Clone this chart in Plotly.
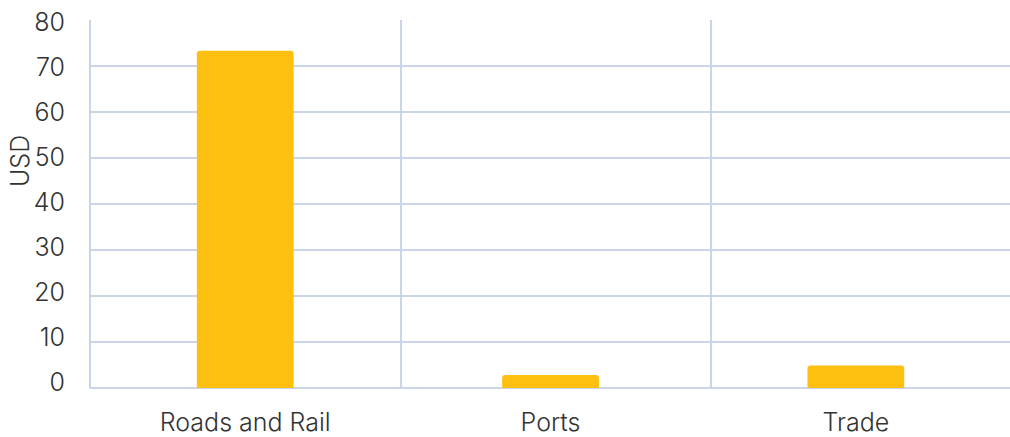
import plotly.graph_objects as go

categories = ["Roads and Rail", "Ports", "Trade"]
values = [73.3, 2.8, 4.9]
y_ticks = [0, 10, 20, 30, 40, 50, 60, 70, 80]

BAR_COLOR = "#FDC010"
GRID_COLOR = "#C9D5E8"
TEXT_COLOR = "#333333"
FONT = "Inter, sans-serif"
FONT_SIZE = 25

positions = list(range(len(categories)))

fig = go.Figure()

fig.add_trace(
    go.Bar(
        x=positions,
        y=values,
        marker=dict(color=BAR_COLOR, cornerradius=3, line=dict(width=0)),
        width=0.317,
        hoverinfo="x+y",
    )
)

# Invisible helper trace so the overlaid grid / label axes are rendered
fig.add_trace(
    go.Scatter(x=[0], y=[0], xaxis="x2", yaxis="y2", mode="markers",
               marker=dict(opacity=0), hoverinfo="skip", showlegend=False)
)

fig.update_layout(
    width=1010,
    height=437,
    margin=dict(l=90, r=0, t=20, b=49, autoexpand=False),
    paper_bgcolor="white",
    plot_bgcolor="white",
    font=dict(family=FONT, size=FONT_SIZE, color=TEXT_COLOR, weight=300),
    showlegend=False,
    xaxis=dict(
        range=[-0.5085, 2.505],
        tickvals=positions,
        ticktext=categories,
        showgrid=False,
        zeroline=False,
        showline=False,
        ticks="",
        ticklabelstandoff=17,
        automargin=False,
    ),
    # Section dividers drawn as the grid of an overlaid axis
    xaxis2=dict(
        overlaying="x",
        side="bottom",
        range=[0, 2.963],
        dtick=1,
        tick0=0,
        showgrid=True,
        gridcolor=GRID_COLOR,
        gridwidth=1.5,
        zeroline=True,
        zerolinecolor=GRID_COLOR,
        zerolinewidth=1.5,
        showticklabels=False,
        showline=False,
        ticks="",
        layer="below traces",
        automargin=False,
    ),
    # Value axis: grid only
    yaxis=dict(
        range=[0, 80],
        tickvals=y_ticks,
        showgrid=True,
        gridcolor=GRID_COLOR,
        gridwidth=1.5,
        zeroline=True,
        zerolinecolor=GRID_COLOR,
        zerolinewidth=1.5,
        showline=False,
        showticklabels=False,
        ticks="",
        automargin=False,
    ),
    # Value labels on a slightly compressed overlaid scale
    yaxis2=dict(
        overlaying="y",
        side="left",
        range=[-1.222, 80.556],
        tickvals=y_ticks,
        showgrid=False,
        zeroline=False,
        showline=False,
        ticks="",
        ticklabelstandoff=24,
        ticklabeloverflow="allow",
        automargin=False,
    ),
    annotations=[
        dict(
            text="USD",
            xref="paper", yref="paper",
            x=-0.076, y=0.617,
            textangle=-90,
            showarrow=False,
            font=dict(size=FONT_SIZE, color=TEXT_COLOR, family=FONT, weight=300),
            xanchor="center", yanchor="middle",
        )
    ],
)

fig.write_html("out.html")
